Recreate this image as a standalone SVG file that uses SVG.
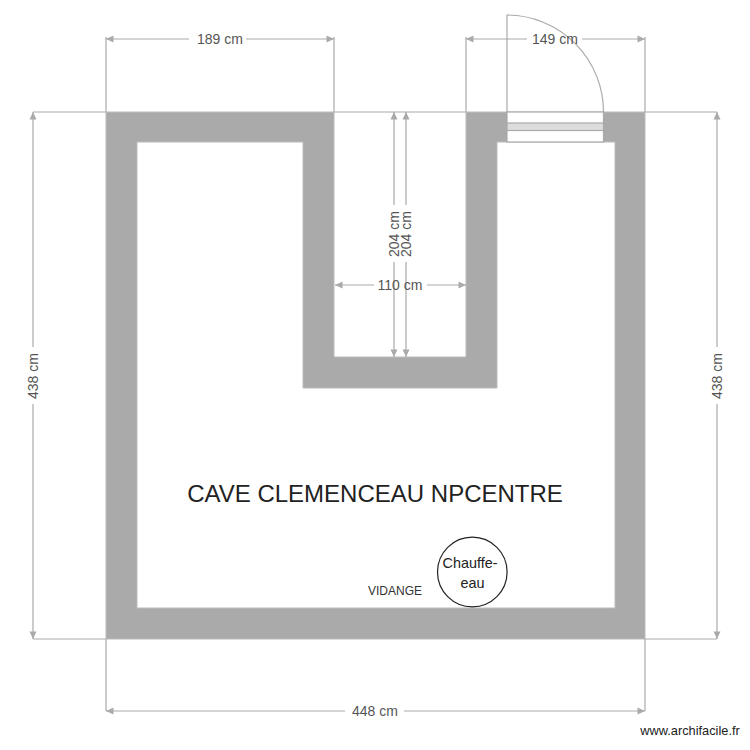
<svg xmlns="http://www.w3.org/2000/svg" width="750" height="750" viewBox="0 0 750 750">
<style>
text{font-family:"Liberation Sans",Arial,sans-serif;text-anchor:middle}
.d{font-size:14px;fill:#555}
.l{stroke:#aaa;stroke-width:1.2;fill:none}
.a{fill:#aaa}
</style>
<rect width="750" height="750" fill="#fff"/>
<g id="walls">
<path fill="#aaa" fill-rule="evenodd" stroke="#bbb" stroke-width="1" d="M106 112H334V357H466V112H645V639H106ZM137 142V608H615V142H497V388H303V142Z"/>
</g>
<g id="door">
<path class="l" d="M507 112V15A97 97 0 0 1 603.500 112"/>
<rect x="507" y="112" width="96.500" height="30" fill="#fff" stroke="#aaa" stroke-width="1.200"/>
<rect x="507" y="123" width="96.500" height="7.500" fill="#ddd" stroke="#aaa" stroke-width="1.200"/>
</g>
<g id="connectors">
<path class="l" d="M106 112V37M334 112V37M466 112V37M645 112V37M106 112H33M106 639H33M334 112H466M645 112H717M645 639H717M106 639V711M645 639V711"/>
<path class="l" d="M106 39H189M246 39H334M466 39H527M582 39H645"/>
<path class="l" d="M33 112V347M33 404V639M717 112V347M717 404V639"/>
<path class="l" d="M106 711H345M404 711H645"/>
<path class="l" d="M394 112V205M394 262V357M406 112V205M406 262V357"/>
<path class="l" d="M335 285H374M427 285H466"/>
<g class="a">
<path d="M106 39l7.500-3.500v7zM334 39l-7.500-3.500v7zM466 39l7.500-3.500v7zM645 39l-7.500-3.500v7z"/>
<path d="M33 112l-3.500 7.500h7zM33 639l-3.500-7.500h7zM717 112l-3.500 7.500h7zM717 639l-3.500-7.500h7z"/>
<path d="M106 711l7.500-3.500v7zM645 711l-7.500-3.500v7z"/>
<path d="M394 112l-3.500 7.500h7zM394 357l-3.500-7.500h7zM406 112l-3.500 7.500h7zM406 357l-3.500-7.500h7z"/>
<path d="M335 285l7.500-3.500v7zM466 285l-7.500-3.500v7z"/>
</g>
</g>
<g id="dim-labels">
<text class="d" x="220" y="44">189 cm</text>
<text class="d" x="555" y="44">149 cm</text>
<text class="d" x="375" y="716">448 cm</text>
<text class="d" x="400" y="290">110 cm</text>
<text class="d" transform="translate(38 376) rotate(-90)">438 cm</text>
<text class="d" transform="translate(722 376) rotate(-90)">438 cm</text>
<text class="d" transform="translate(399 234) rotate(-90)">204 cm</text>
<text class="d" transform="translate(411 234) rotate(-90)">204 cm</text>
</g>
<g id="title"><text x="375" y="502" font-size="24" fill="#222">CAVE CLEMENCEAU NPCENTRE</text></g>
<g id="vidange"><text x="395" y="595" font-size="12" fill="#333">VIDANGE</text></g>
<g id="chauffe-eau">
<circle cx="472.300" cy="572" r="34.800" fill="#fff" stroke="#222" stroke-width="1.200"/>
<text x="470" y="568" font-size="14.400" fill="#222">Chauffe-</text>
<text x="472.500" y="588" font-size="14.400" fill="#222">eau</text>
</g>
<g id="watermark"><text x="690" y="735" font-size="12.800" fill="#222">www.archifacile.fr</text></g>
</svg>
